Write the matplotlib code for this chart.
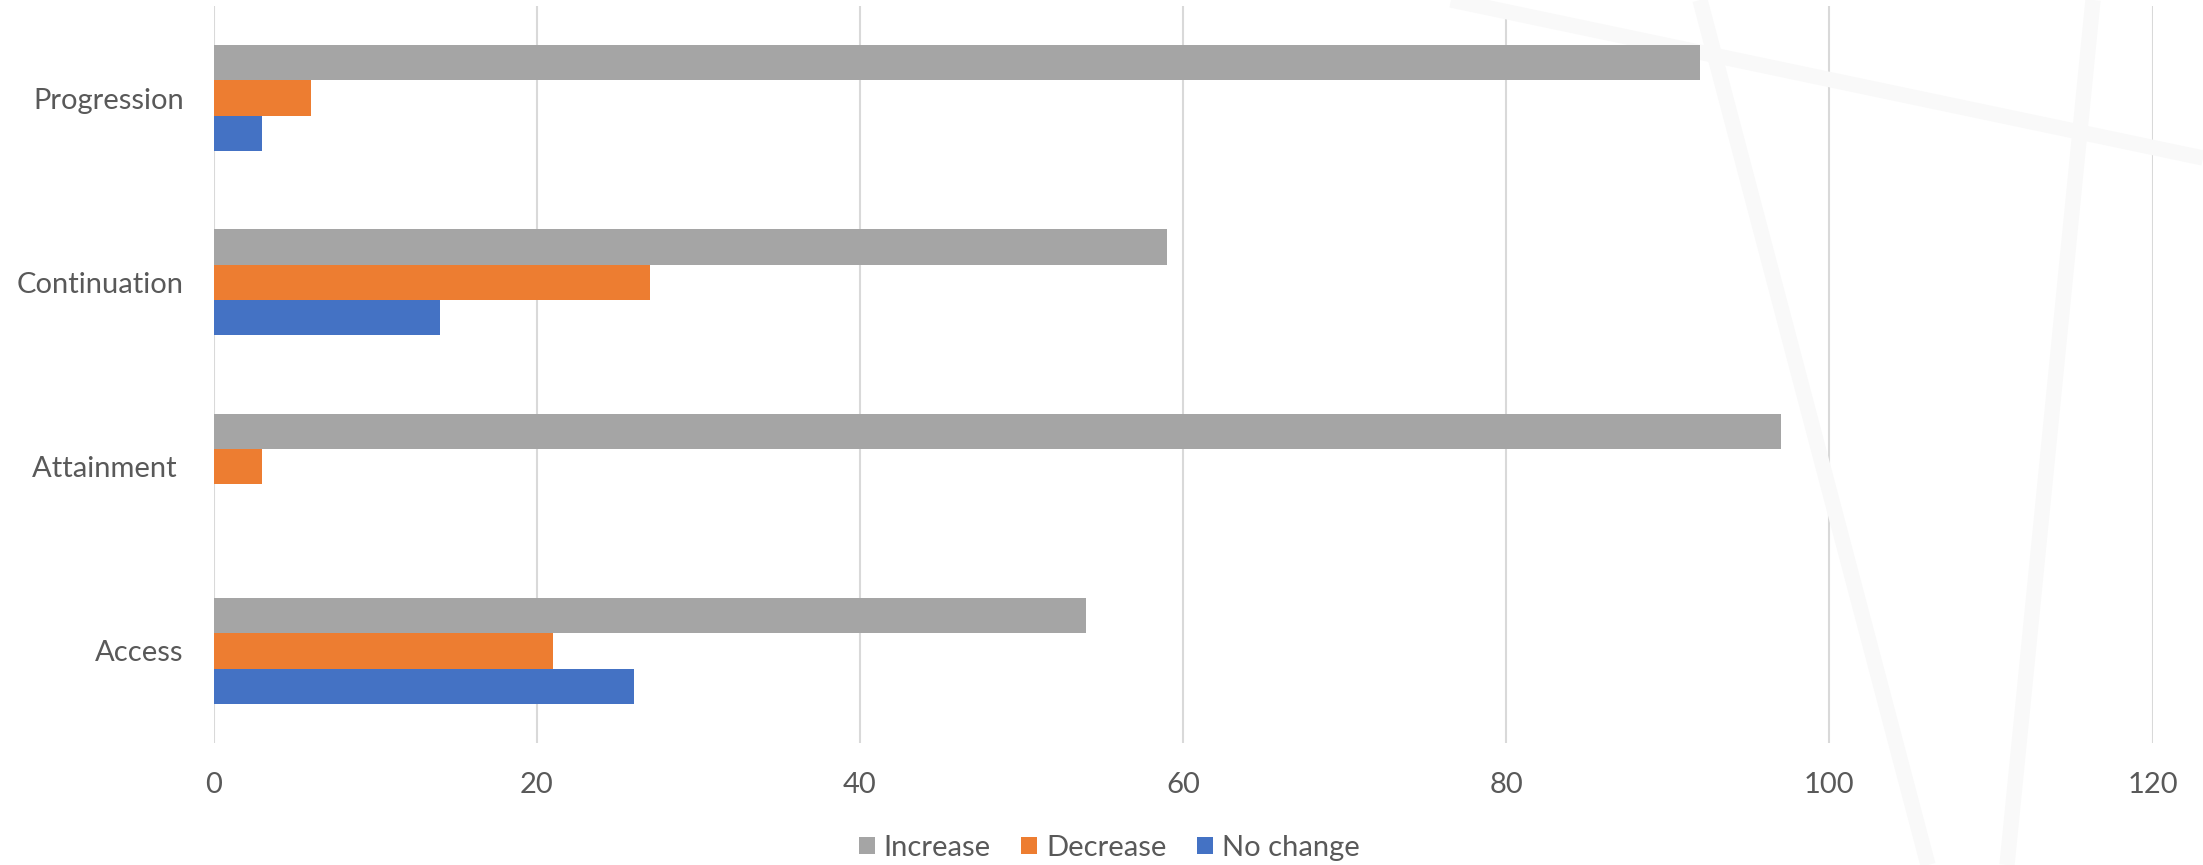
import matplotlib.pyplot as plt
import numpy as np

# data (percent of responses)
categories = ["Access", "Attainment ", "Continuation", "Progression"]
increase = [54, 97, 59, 92]
decrease = [21, 3, 27, 6]
no_change = [26, 0, 14, 3]
series_names = ["Increase", "Decrease", "No change"]
x_ticks = [0, 20, 40, 60, 80, 100, 120]

colors = {"Increase": "#A5A5A5", "Decrease": "#ED7D31", "No change": "#4472C4"}
text_color = "#595959"

plt.rcParams["font.family"] = ["Lato", "DejaVu Sans"]

fig = plt.figure(figsize=(22.03, 8.65), dpi=100)
ax = fig.add_axes([0.097, 0.141, 0.9771 - 0.097, 0.9931 - 0.141])
ax.patch.set_alpha(0)

y = np.arange(len(categories))
h = 0.1915
ax.barh(y + h, increase, height=h, color=colors["Increase"], label="Increase", zorder=3)
ax.barh(y, decrease, height=h, color=colors["Decrease"], label="Decrease", zorder=3)
ax.barh(y - h, no_change, height=h, color=colors["No change"], label="No change", zorder=3)

ax.set_xlim(0, 120)
ax.set_ylim(-0.5, len(categories) - 0.5)
ax.set_xticks(x_ticks)
ax.set_yticks(y)
ax.set_yticklabels(categories)
ax.grid(axis="x", color="#D9D9D9", linewidth=1.5, zorder=0)
ax.set_axisbelow(True)
for s in ax.spines.values():
    s.set_visible(False)
ax.tick_params(axis="both", length=0, labelsize=21, labelcolor=text_color)
ax.tick_params(axis="y", pad=21.5)
ax.tick_params(axis="x", pad=21)

# faint decorative stripes in the background
W, H = 2203.0, 865.0
stripes = [((1451, 0), (2203, 158)), ((1700, 0), (1928, 865)), ((2093, 0), (2007, 865))]
for (x0, y0), (x1, y1) in stripes:
    ax.plot([x0 / W, x1 / W], [1 - y0 / H, 1 - y1 / H], transform=fig.transFigure,
            color="#F9F9F9", linewidth=11, solid_capstyle="butt", clip_on=False, zorder=1)

leg = fig.legend(loc="center", bbox_to_anchor=(0.5034, 0.0197), ncol=3, frameon=False,
                 fontsize=21, handlelength=0.55, handleheight=0.55, handletextpad=0.3,
                 columnspacing=1.05, labelcolor=text_color)

fig.savefig("out.png", dpi=100)
